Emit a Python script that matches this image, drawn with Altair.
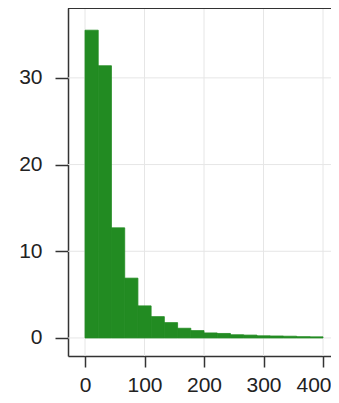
import altair as alt
import pandas as pd

# Histogram bins (18 equal bins from 0 to 400) and their heights
bin_start = [0.0, 22.2, 44.4, 66.7, 88.9, 111.1, 133.3, 155.6, 177.8,
             200.0, 222.2, 244.4, 266.7, 288.9, 311.1, 333.3, 355.6, 377.8]
bin_end = [22.2, 44.4, 66.7, 88.9, 111.1, 133.3, 155.6, 177.8, 200.0,
           222.2, 244.4, 266.7, 288.9, 311.1, 333.3, 355.6, 377.8, 400.0]
counts = [35.5, 31.4, 12.7, 6.9, 3.7, 2.46, 1.77, 1.12, 0.85,
          0.58, 0.52, 0.37, 0.33, 0.25, 0.23, 0.2, 0.15, 0.13]

x_ticks = [0, 100, 200, 300, 400]
y_ticks = [0, 10, 20, 30]

df = pd.DataFrame({"start": bin_start, "end": bin_end, "count": counts})
xg = pd.DataFrame({"v": x_ticks})
yg = pd.DataFrame({"v": y_ticks})

W, H = 263, 348
FONT = "Liberation Sans"
FRAME = "#333333"
GREEN = "#228B22"
GRID = "#e6e6e6"

x_scale = alt.Scale(domain=[-28.6, 413.4], nice=False, zero=False)
y_scale = alt.Scale(domain=[-2.08, 38.06], nice=False, zero=False)

x_grid = alt.Chart(xg).mark_rule(color=GRID, strokeWidth=1).encode(
    x=alt.X("v:Q", scale=x_scale,
            axis=alt.Axis(values=x_ticks, title=None, format="d")),
    y=alt.value(0), y2=alt.value(H),
)
y_grid = alt.Chart(yg).mark_rule(color=GRID, strokeWidth=1).encode(
    y=alt.Y("v:Q", scale=y_scale,
            axis=alt.Axis(values=y_ticks, title=None, format="d")),
    x=alt.value(0), x2=alt.value(W),
)

bars = alt.Chart(df).transform_calculate(base="0").mark_rect(
    color=GREEN, stroke=GREEN, strokeWidth=0.8
).encode(
    x=alt.X("start:Q", scale=x_scale),
    x2="end:Q",
    y=alt.Y("count:Q", scale=y_scale),
    y2="base:Q",
)

top_line = alt.Chart(df).mark_rule(color=FRAME, strokeWidth=1.5).encode(
    x=alt.value(0), x2=alt.value(W), y=alt.value(0)
)

chart = alt.layer(x_grid, y_grid, bars, top_line).properties(
    width=W, height=H,
    autosize=alt.AutoSizeParams(type="none"),
    padding={"left": 60, "top": 0, "right": 0, "bottom": 39},
).configure_view(
    stroke="transparent",
    strokeWidth=0,
).configure_axis(
    grid=False,
    domain=True,
    domainColor=FRAME,
    domainWidth=1.5,
    ticks=True,
    tickColor=FRAME,
    tickWidth=1.5,
    labelFont=FONT,
    labelFontSize=21,
    labelColor="#222222",
    labelOverlap=False,
).configure_axisY(
    tickSize=13,
    labelPadding=13,
    labelFlush=False,
).configure_axisX(
    tickSize=11,
    labelPadding=7,
    labelFlush=10,
    labelFlushOffset=8,
)

chart.save("out.html", embed_options={"renderer": "svg", "actions": False})
